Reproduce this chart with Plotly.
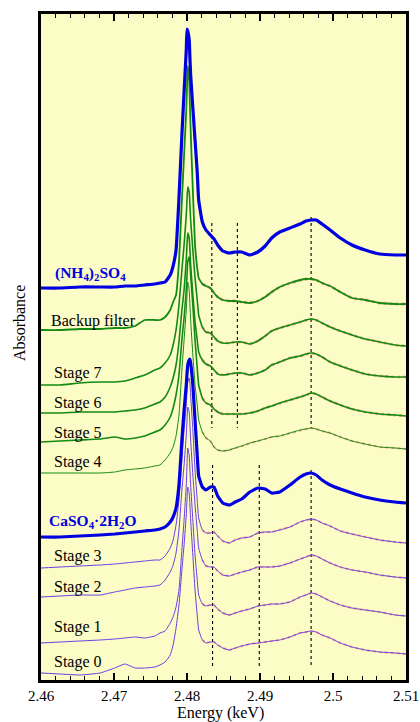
import plotly.graph_objects as go

# ---------------- data ----------------
energy_keV = [2.4600, 2.4626, 2.4653, 2.4681, 2.4701, 2.4715, 2.4729, 2.4742, 2.4756, 2.4763,
              2.4770, 2.4777, 2.4781, 2.4785, 2.4789, 2.4793, 2.4796, 2.4799, 2.4800, 2.4801,
              2.4803, 2.4804, 2.4805, 2.4808, 2.4811, 2.4814, 2.4816, 2.4821, 2.4826, 2.4832,
              2.4837, 2.4842, 2.4849, 2.4858, 2.4866, 2.4875, 2.4886, 2.4897, 2.4907, 2.4916,
              2.4927, 2.4941, 2.4955, 2.4963, 2.4970, 2.4977, 2.4985, 2.4996, 2.5010, 2.5026,
              2.5044, 2.5064, 2.5085, 2.5100]

# stacked absorbance (arbitrary units, offsets included)
nh4_2so4 = [392, 392, 393, 393, 393, 394, 394, 395, 396, 397, 398, 405, 414, 430, 482, 545, 588, 630, 651, 649,
            640, 622, 605, 572, 540, 508, 480, 458, 450, 445, 441, 435, 429, 427, 428, 428, 425, 428, 434, 442,
            448, 452, 456, 459, 460, 460, 456, 450, 442, 435, 430, 426, 425, 425]
backup_filter = [350, 350, 351, 351, 352, 352, 354, 360, 360, 360, 363, 370, 378, 385, 418, 480, 525, 570, 592, 614,
                 600, 575, 550, 490, 435, 412, 402, 396, 394, 392, 387, 383, 380, 379, 379, 378, 377, 379, 383, 388,
                 393, 397, 400, 401, 401, 400, 397, 394, 388, 382, 380, 377, 376, 376]
stage7 = [295, 295, 297, 298, 298, 299, 302, 305, 310, 312, 317, 325, 335, 350, 375, 410, 435, 465, 480, 493,
          488, 475, 460, 430, 402, 380, 365, 353, 348, 347, 343, 339, 337, 337, 338, 338, 336, 339, 344, 349,
          352, 355, 358, 360, 361, 360, 357, 353, 349, 345, 341, 338, 335, 334]
stage6 = [267, 267, 268, 268, 268, 269, 270, 272, 276, 278, 283, 293, 302, 315, 338, 370, 390, 420, 435, 447,
          442, 430, 415, 385, 358, 340, 328, 320, 316, 314, 310, 306, 305, 306, 307, 307, 305, 307, 310, 315,
          318, 322, 324, 326, 327, 326, 323, 318, 314, 310, 306, 304, 303, 303]
stage5 = [238, 239, 240, 241, 243, 241, 242, 244, 248, 250, 255, 263, 272, 285, 305, 340, 362, 390, 405, 418,
          423, 417, 405, 375, 340, 312, 295, 282, 277, 275, 271, 268, 266, 266, 266, 266, 267, 269, 272, 274,
          277, 280, 283, 285, 287, 286, 283, 279, 275, 271, 268, 266, 265, 264]
stage4 = [207, 207, 207, 207, 208, 210, 211, 212, 214, 215, 220, 227, 233, 244, 265, 310, 340, 370, 385, 398,
          390, 375, 360, 325, 295, 275, 260, 248, 242, 239, 233, 230, 229, 230, 232, 234, 237, 239, 241, 243,
          244, 247, 250, 251, 252, 251, 249, 247, 243, 239, 236, 233, 232, 231]
caso4_2h2o = [143, 143, 144, 145, 146, 147, 148, 149, 150, 151, 153, 158, 163, 172, 195, 240, 270, 295, 306, 315,
              320, 321, 317, 295, 260, 225, 204, 193, 190, 193, 193, 184, 177, 175, 178, 181, 188, 192, 191, 187,
              188, 195, 203, 206, 207, 205, 200, 195, 191, 187, 183, 180, 178, 177]
stage3 = [112, 113, 114, 115, 116, 117, 118, 119, 120, 120, 124, 132, 140, 155, 180, 220, 250, 275, 288, 298,
          302, 297, 285, 250, 210, 180, 162, 150, 147, 147, 148, 144, 139, 137, 140, 142, 143, 147, 148, 148,
          150, 153, 158, 160, 161, 160, 157, 154, 149, 146, 143, 140, 138, 137]
stage2 = [83, 84, 85, 85, 88, 90, 92, 93, 94, 95, 100, 108, 115, 127, 150, 190, 215, 245, 260, 273,
          268, 255, 240, 205, 175, 150, 132, 120, 114, 113, 113, 109, 105, 104, 106, 108, 110, 113, 113, 113,
          114, 117, 121, 123, 125, 124, 121, 117, 113, 110, 108, 105, 103, 102]
stage1 = [37, 38, 39, 40, 41, 42, 43, 42, 44, 47, 49, 57, 63, 73, 90, 130, 160, 195, 215, 232,
          225, 210, 195, 160, 125, 100, 85, 76, 74, 75, 75, 71, 67, 65, 67, 69, 71, 74, 75, 76,
          76, 78, 83, 85, 87, 86, 83, 79, 75, 72, 70, 68, 65, 64]
stage0 = [7, 6, 5, 7, 12, 16, 12, 12, 13, 15, 18, 25, 35, 52, 75, 110, 135, 165, 180, 193,
          187, 175, 160, 125, 90, 65, 50, 40, 37, 38, 38, 35, 32, 30, 32, 34, 36, 37, 38, 39,
          40, 43, 47, 48, 49, 48, 45, 42, 37, 33, 30, 28, 27, 26]

# reference feature energies (dotted markers) and their vertical extents
upper_feature_keV = [2.4834, 2.4869, 2.4970]
upper_feature_top = [457, 457, 463]
upper_feature_bottom = [252, 252, 252]
lower_feature_keV = [2.4835, 2.4899, 2.4970]
lower_feature_top = [215, 215, 210]
lower_feature_bottom = [12, 12, 12]

fit_start_keV = 2.4821

tick_values = [2.46, 2.47, 2.48, 2.49, 2.50, 2.51]
tick_labels = ["2.46", "2.47", "2.48", "2.49", "2.5", "2.51"]

# ---------------- styling ----------------
BLUE = "#0000e0"
GREEN = "#138a13"
PURPLE = "#6a3ce6"
RED = "rgba(255,60,60,0.45)"
BG = "#fcfcc6"
FONT = "Liberation Serif, Times New Roman, serif"

series = [
    ("Backup filter", backup_filter, GREEN, 1.8),
    ("Stage 7", stage7, GREEN, 1.6),
    ("Stage 6", stage6, GREEN, 1.6),
    ("Stage 5", stage5, GREEN, 1.6),
    ("Stage 4", stage4, GREEN, 1.0),
    ("Stage 3", stage3, PURPLE, 1.0),
    ("Stage 2", stage2, PURPLE, 1.0),
    ("Stage 1", stage1, PURPLE, 1.0),
    ("Stage 0", stage0, PURPLE, 1.0),
]
references = [
    ("(NH4)2SO4", nh4_2so4, BLUE, 3.2),
    ("CaSO4·2H2O", caso4_2h2o, BLUE, 3.2),
]

fig = go.Figure()

# dotted feature lines
for e, t, b in zip(upper_feature_keV, upper_feature_top, upper_feature_bottom):
    fig.add_trace(go.Scatter(x=[e, e], y=[t, b], mode="lines",
                             line=dict(color="black", width=1.1, dash="dot"),
                             hoverinfo="skip", showlegend=False))
for e, t, b in zip(lower_feature_keV, lower_feature_top, lower_feature_bottom):
    fig.add_trace(go.Scatter(x=[e, e], y=[t, b], mode="lines",
                             line=dict(color="black", width=1.1, dash="dot"),
                             hoverinfo="skip", showlegend=False))

# sample spectra with fit overlay
for name, vals, col, w in series:
    fx = [e for e in energy_keV if e >= fit_start_keV]
    fy = [v for e, v in zip(energy_keV, vals) if e >= fit_start_keV]
    fig.add_trace(go.Scatter(x=fx, y=fy, mode="lines",
                             line=dict(color=RED, width=w + 1.0, dash="dot"),
                             hoverinfo="skip", showlegend=False))
    fig.add_trace(go.Scatter(x=energy_keV, y=vals, mode="lines", name=name,
                             line=dict(color=col, width=w, shape="spline", smoothing=0.4),
                             showlegend=False))

for name, vals, col, w in references:
    fig.add_trace(go.Scatter(x=energy_keV, y=vals, mode="lines", name=name,
                             line=dict(color=col, width=w, shape="spline", smoothing=0.4),
                             showlegend=False))

# curve labels
label_text = ["(NH<sub>4</sub>)<sub>2</sub>SO<sub>4</sub>", "Backup filter", "Stage 7", "Stage 6",
              "Stage 5", "Stage 4", "CaSO<sub>4</sub>·2H<sub>2</sub>O", "Stage 3", "Stage 2",
              "Stage 1", "Stage 0"]
label_x = [2.4616, 2.4611, 2.4615, 2.4615, 2.4615, 2.4615, 2.4608, 2.4615, 2.4615, 2.4615, 2.4615]
label_y = [407, 359, 307, 277, 247, 218, 159, 124, 93, 53, 18]
label_bold = [True, False, False, False, False, False, True, False, False, False, False]

for t, x, y, b in zip(label_text, label_x, label_y, label_bold):
    fig.add_annotation(x=x, y=y, xref="x", yref="y", text=f"<b>{t}</b>" if b else t,
                       showarrow=False, xanchor="left", yanchor="middle",
                       font=dict(family=FONT, size=15.5 if b else 16,
                                 color=BLUE if b else "black"))

fig.add_annotation(x=-0.06, y=0.536, xref="paper", yref="paper", text="Absorbance",
                   textangle=-90, showarrow=False, xanchor="center", yanchor="middle",
                   font=dict(family=FONT, size=16, color="black"))
fig.add_annotation(x=0.493, y=-0.05, xref="paper", yref="paper", text="Energy (keV)",
                   showarrow=False, xanchor="center", yanchor="middle",
                   font=dict(family=FONT, size=16, color="black"))

fig.update_layout(
    width=420, height=722,
    margin=dict(l=41, r=14, t=14, b=42, autoexpand=False),
    paper_bgcolor="white", plot_bgcolor=BG,
    showlegend=False,
    xaxis=dict(range=[2.46, 2.51], showline=True, linecolor="black", linewidth=2.5,
               mirror="ticks", ticks="inside", ticklen=7, tickwidth=1.5, tickcolor="black",
               tickvals=tick_values, ticktext=tick_labels, automargin=False,
               tickfont=dict(family=FONT, size=15, color="black"),
               minor=dict(dtick=0.002, tick0=2.46, ticks="inside", ticklen=4,
                          tickwidth=1.2, tickcolor="black", showgrid=False),
               showgrid=False, zeroline=False),
    yaxis=dict(range=[0, 666], showline=True, linecolor="black", linewidth=2.5, automargin=False,
               mirror=True, ticks="", showticklabels=False, showgrid=False, zeroline=False),
)

fig.write_html("out.html", config={"displayModeBar": False},
               post_script="document.body.style.margin='0';document.body.style.overflow='hidden';")
